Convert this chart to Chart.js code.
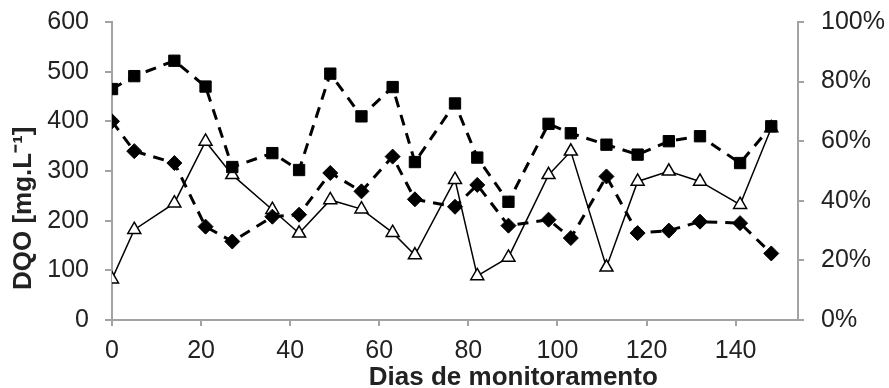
<!DOCTYPE html>
<html>
<head>
<meta charset="utf-8">
<script src="https://cdn.jsdelivr.net/npm/chart.js@4"></script>
<style>
  body { margin: 0; background: #fff; }
  #wrap { width: 889px; height: 388px; }
</style>
</head>
<body>
<div id="wrap"><canvas id="dqo"></canvas></div>
<script>
// dias de monitoramento
const days = [0, 5, 14, 21, 27, 36, 42, 49, 56, 63, 68, 77, 82, 89, 98, 103, 111, 118, 125, 132, 141, 148];
// DQO afluente (quadrados) mg/L
const dqoIn = [465, 491, 522, 470, 308, 336, 302, 496, 410, 469, 318, 436, 327, 238, 395, 376, 353, 333, 360, 370, 316, 390];
// DQO efluente (losangos) mg/L
const dqoOut = [400, 340, 316, 188, 158, 208, 212, 296, 259, 329, 243, 228, 272, 190, 202, 165, 289, 175, 180, 198, 195, 134];
// eficiencia de remocao (triangulos) %
const removal = [13.7, 30.3, 39.2, 59.9, 48.7, 37, 29.1, 40.3, 37.2, 29.3, 21.8, 47.1, 14.8, 21, 48.7, 56.6, 17.7, 46.5, 49.9, 46.5, 38.7, 64.4];

const leftTicks = [0, 100, 200, 300, 400, 500, 600];
const rightTicks = [0, 20, 40, 60, 80, 100];

const xTitle = 'Dias de monitoramento';
const yTitle = 'DQO [mg.L\u207B\u00B9]';

const toXY = vals => vals.map((v, i) => ({ x: days[i], y: v }));

const axisGray = '#a3a3a3';
const textColor = '#222';
const fam = '"Liberation Sans", Arial, sans-serif';

// axis titles sit off-centre in the original, so draw them ourselves
const axisTitles = {
    id: 'axisTitles',
    afterDraw(chart) {
        const ctx = chart.ctx;
        const area = chart.chartArea;
        ctx.save();
        ctx.fillStyle = textColor;
        ctx.font = 'bold 26px ' + fam;
        ctx.textAlign = 'center';
        ctx.textBaseline = 'alphabetic';
        ctx.fillText(xTitle, area.left + (area.right - area.left) * 0.585, chart.height - 3);
        ctx.translate(31, area.top + (area.bottom - area.top) * 0.625);
        ctx.rotate(-Math.PI / 2);
        ctx.fillText(yTitle, 0, 0);
        ctx.restore();
    }
};

new Chart(document.getElementById('dqo'), {
    type: 'line',
    data: {
        datasets: [{
            data: toXY(dqoIn),
            yAxisID: 'y',
            borderColor: '#000',
            borderWidth: 3,
            borderDash: [11, 8],
            pointStyle: 'rect',
            pointRadius: 8,
            pointBackgroundColor: '#000',
            pointBorderColor: '#000',
            pointBorderWidth: 1,
            tension: 0
        }, {
            data: toXY(dqoOut),
            yAxisID: 'y',
            borderColor: '#000',
            borderWidth: 3,
            borderDash: [11, 8],
            pointStyle: 'rectRot',
            pointRadius: 7.5,
            pointBackgroundColor: '#000',
            pointBorderColor: '#000',
            pointBorderWidth: 1,
            tension: 0
        }, {
            data: toXY(removal),
            yAxisID: 'y1',
            borderColor: '#000',
            borderWidth: 1.5,
            pointStyle: 'triangle',
            pointRadius: 7.5,
            pointBackgroundColor: '#fff',
            pointBorderColor: '#000',
            pointBorderWidth: 1.5,
            tension: 0
        }]
    },
    options: {
        responsive: true,
        maintainAspectRatio: false,
        animation: false,
        layout: { padding: { top: 22, left: 0, right: 0, bottom: 0 } },
        scales: {
            x: {
                type: 'linear',
                min: 0,
                max: 154,
                afterFit: s => { s.height = 68; },
                border: { color: axisGray, width: 2 },
                grid: { drawOnChartArea: false, color: axisGray, tickLength: 6, lineWidth: 2 },
                ticks: {
                    stepSize: 20,
                    includeBounds: false,
                    padding: 10,
                    maxRotation: 0,
                    color: textColor,
                    font: { family: fam, size: 25 }
                }
            },
            y: {
                position: 'left',
                min: 0,
                max: 600,
                afterFit: s => { s.width = 112; s.paddingTop = 0; s.paddingBottom = 0; },
                afterBuildTicks: s => { s.ticks = leftTicks.map(v => ({ value: v })); },
                border: { color: axisGray, width: 2 },
                grid: { drawOnChartArea: false, color: axisGray, tickLength: 7, lineWidth: 2 },
                ticks: {
                    padding: 16,
                    color: textColor,
                    font: { family: fam, size: 25 }
                }
            },
            y1: {
                position: 'right',
                min: 0,
                max: 100,
                afterFit: s => { s.width = 91; s.paddingTop = 0; s.paddingBottom = 0; },
                afterBuildTicks: s => { s.ticks = rightTicks.map(v => ({ value: v })); },
                border: { color: axisGray, width: 2 },
                grid: { drawOnChartArea: false, color: axisGray, tickLength: 6, lineWidth: 2 },
                ticks: {
                    padding: 17,
                    color: textColor,
                    font: { family: fam, size: 25 },
                    callback: v => v + '%'
                }
            }
        },
        plugins: {
            legend: { display: false },
            tooltip: { enabled: false }
        }
    },
    plugins: [axisTitles]
});
</script>
</body>
</html>
